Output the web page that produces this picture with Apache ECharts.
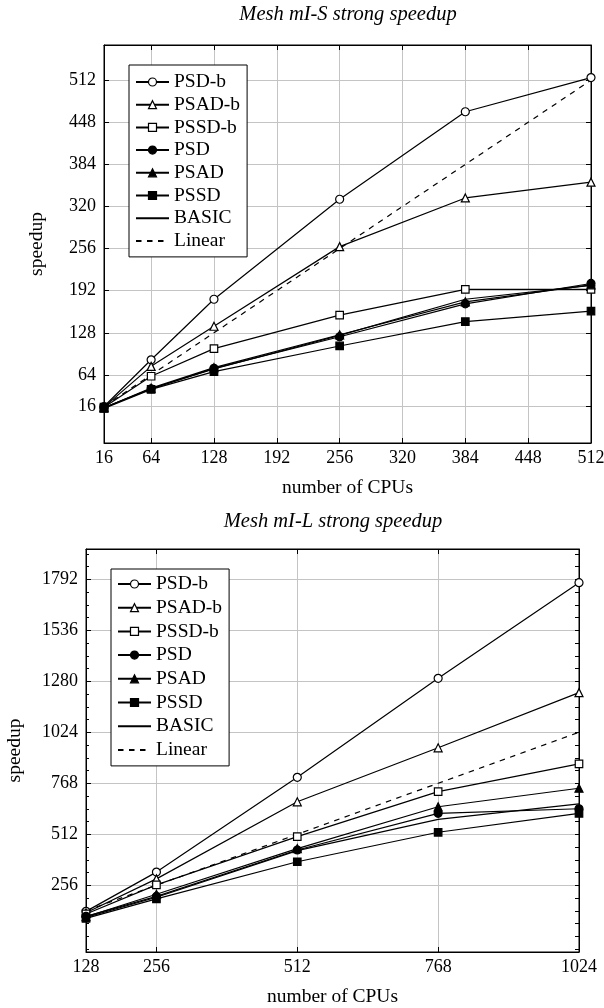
<!DOCTYPE html>
<html><head><meta charset="utf-8">
<script src="https://cdn.jsdelivr.net/npm/echarts@6/dist/echarts.min.js"></script>
<style>html,body{margin:0;padding:0;background:#fff}#c{width:604px;height:1008px}</style>
</head><body><div id="c"></div>
<script>
// ---------- data ----------
const seriesNames = ['PSD-b','PSAD-b','PSSD-b','PSD','PSAD','PSSD','BASIC','Linear'];

// Chart 1: Mesh mI-S
const titleS = 'Mesh mI-S strong speedup';
const cpusS = [16, 64, 128, 256, 384, 512];
const psdbS  = [16, 87, 179, 331, 464, 516];
const psadbS = [15, 77, 138, 259, 333, 357];
const pssdbS = [15, 62, 104, 155, 194, 194];
const psdS   = [14, 43, 74, 122, 172, 203];
const psadS  = [14, 44, 75, 125, 175, 201];
const pssdS  = [13, 42, 69, 108, 145, 161];
const basicS = [14, 43, 73, 124, 179, 200];
const linearS = [16, 64, 128, 256, 384, 512];
const xTicksS = [16, 64, 128, 192, 256, 320, 384, 448, 512];
const yTicksS = [16, 64, 128, 192, 256, 320, 384, 448, 512];

// Chart 2: Mesh mI-L
const titleL = 'Mesh mI-L strong speedup';
const cpusL = [128, 256, 512, 768, 1024];
const psdbL  = [125, 322, 798, 1295, 1775];
const psadbL = [118, 288, 675, 946, 1223];
const pssdbL = [112, 258, 500, 726, 865];
const psdL   = [100, 200, 433, 617, 640];
const psadL  = [98, 211, 440, 650, 743];
const pssdL  = [90, 188, 374, 522, 617];
const basicL = [95, 196, 430, 587, 665];
const linearL = [128, 256, 512, 768, 1024];
const xTicksL = [128, 256, 512, 768, 1024];
const yTicksL = [256, 512, 768, 1024, 1280, 1536, 1792];
const yMinorL = [-64, 0, 64, 128, 192, 320, 384, 448, 576, 640, 704, 832, 896, 960, 1088, 1152, 1216, 1344, 1408, 1472, 1600, 1664, 1728, 1856, 1920];

const xName = 'number of CPUs';
const yName = 'speedup';

// ---------- styling ----------
const FONT = '"Liberation Serif", "Times New Roman", serif';
const FS = 18;
const FS_TXT = 19.5;
const GRIDC = '#c4c4c4';

const styles = {
  'PSD-b':  {symbol:'circle',   size:8,   fill:'#fff'},
  'PSAD-b': {symbol:'triangle', size:8,   fill:'#fff'},
  'PSSD-b': {symbol:'rect',     size:7.5, fill:'#fff'},
  'PSD':    {symbol:'circle',   size:8,   fill:'#000'},
  'PSAD':   {symbol:'triangle', size:8,   fill:'#000'},
  'PSSD':   {symbol:'rect',     size:7.5, fill:'#000'},
  'BASIC':  {symbol:'none',     size:0,   fill:'#000'},
  'Linear': {symbol:'none',     size:0,   fill:'#000', dash:[5.5,5.5]}
};

function pairs(xs, ys){ return xs.map((x,i)=>[x, ys[i]]); }

function mkSeries(name, xs, ys, gi, yi){
  const st = styles[name];
  return {
    type:'line', name, xAxisIndex: gi, yAxisIndex: yi,
    data: pairs(xs, ys),
    symbol: st.symbol, symbolSize: st.size, showSymbol: st.symbol !== 'none',
    lineStyle: {color:'#000', width:1.2, type: st.dash ? st.dash : 'solid'},
    itemStyle: {color: st.fill, borderColor:'#000', borderWidth:1.2},
    emphasis: {disabled:true},
    z: 3
  };
}

const setS = [psdbS, psadbS, pssdbS, psdS, psadS, pssdS, basicS, linearS];
const setL = [psdbL, psadbL, pssdbL, psdL, psadL, pssdL, basicL, linearL];

const series = [];
seriesNames.forEach((n,i)=>series.push(mkSeries(n, cpusS, setS[i], 0, 0)));
seriesNames.forEach((n,i)=>series.push(mkSeries(n, cpusL, setL[i], 2, 2)));

const lab = {fontFamily: FONT, fontSize: FS, color:'#000'};
const labT = {fontFamily: FONT, fontSize: FS_TXT, color:'#000'};
const fmt = v => String(v);

function mainX(gi, min, max, ticks){
  return {type:'value', gridIndex:gi, min, max, position:'bottom',
    axisLine:{show:true, onZero:false, lineStyle:{color:'#000', width:1}},
    axisTick:{show:true, inside:true, length:5, customValues:ticks, lineStyle:{color:'#000'}},
    axisLabel:{show:true, customValues:ticks, formatter:fmt, margin:6, ...lab},
    splitLine:{show:true, lineStyle:{color:GRIDC, width:1}},
    name:xName, nameLocation:'middle', nameGap:35, nameTextStyle:{...labT}};
}
function topX(gi, min, max, ticks){
  return {type:'value', gridIndex:gi, min, max, position:'top',
    axisLine:{show:true, onZero:false, lineStyle:{color:'#000', width:1}},
    axisTick:{show:true, inside:true, length:5, customValues:ticks, lineStyle:{color:'#000'}},
    axisLabel:{show:false}, splitLine:{show:false}};
}
function mainY(gi, min, max, ticks, gap){
  return {type:'value', gridIndex:gi, min, max, position:'left',
    axisLine:{show:true, onZero:false, lineStyle:{color:'#000', width:1}},
    axisTick:{show:true, inside:true, length:5, customValues:ticks, lineStyle:{color:'#000'}},
    axisLabel:{show:true, customValues:ticks, formatter:fmt, margin:8, ...lab},
    splitLine:{show:true, lineStyle:{color:GRIDC, width:1}},
    name:yName, nameLocation:'middle', nameGap:gap, nameRotate:90, nameTextStyle:{...labT}};
}
function tickY(gi, min, max, ticks, pos, len){
  return {type:'value', gridIndex:gi, min, max, position:pos,
    axisLine:{show:pos==='right', onZero:false, lineStyle:{color:'#000', width:1}},
    axisTick:{show:true, inside:true, length:len, customValues:ticks, lineStyle:{color:'#000'}},
    axisLabel:{show:false}, splitLine:{show:false}};
}

const legendData = seriesNames.map(n => (n==='BASIC' || n==='Linear') ? {name:n, itemStyle:{opacity:0}} : {name:n});
function mkLegend(left, top, gap, pad){
  return {show:true, orient:'vertical', left, top, padding:pad,
    backgroundColor:'#fff', borderColor:'#000', borderWidth:1, borderRadius:0,
    itemWidth:33, itemHeight:10, itemGap:gap, selectedMode:false,
    itemStyle:{borderWidth:1.2},
    textStyle:{...labT},
    data: legendData, z:10};
}

const option = {
  animation:false,
  backgroundColor:'#fff',
  grid:[
    {left:104, top:45, width:487, height:398, show:true, borderColor:'#000', borderWidth:1, backgroundColor:'transparent', containLabel:false, outerBoundsMode:'none'},
    {left:86, top:549, width:493, height:403, show:true, borderColor:'#000', borderWidth:1, backgroundColor:'transparent', containLabel:false, outerBoundsMode:'none'}
  ],
  xAxis:[
    mainX(0, 16, 512, xTicksS),
    topX(0, 16, 512, xTicksS),
    mainX(1, 128, 1024, xTicksL),
    topX(1, 128, 1024, xTicksL)
  ],
  yAxis:[
    mainY(0, -39.5, 565.5, yTicksS, 57),
    tickY(0, -39.5, 565.5, yTicksS, 'right', 5),
    mainY(1, -79, 1944, yTicksL, 61),
    tickY(1, -79, 1944, yMinorL, 'left', 3),
    tickY(1, -79, 1944, yMinorL.concat(yTicksL), 'right', 4)
  ],
  legend:[
    mkLegend(129, 65, 2.7, [7,7,6,6]),
    mkLegend(111, 569, 3.7, [5,7,6,6])
  ],
  graphic:[
    {type:'text', x:348, y:15, style:{text:titleS, textAlign:'center', textVerticalAlign:'middle', font:'italic 20.5px ' + FONT, fill:'#000'}},
    {type:'text', x:333, y:522, style:{text:titleL, textAlign:'center', textVerticalAlign:'middle', font:'italic 20.5px ' + FONT, fill:'#000'}}
  ],
  series
};

const chart = echarts.init(document.getElementById('c'), null, {renderer:'canvas'});
chart.setOption(option);
</script>
</body></html>
